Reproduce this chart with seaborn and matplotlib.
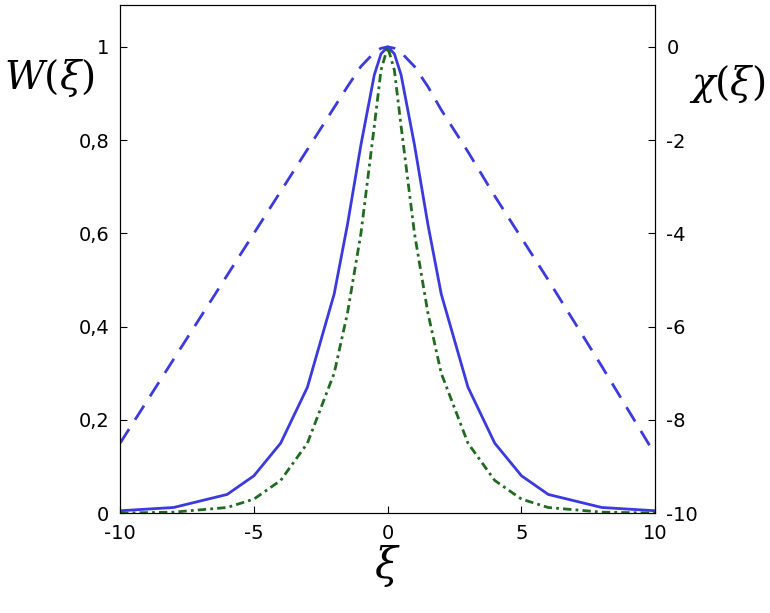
import numpy as np
import pandas as pd
import matplotlib
matplotlib.use('Agg')
import matplotlib.pyplot as plt
import matplotlib.ticker as tick
import seaborn as sbn

# values
xi = [-10, -8, -6, -5, -4, -3, -2, -1.5, -1, -0.5, -0.25, 0, 0.25, 0.5, 1, 1.5, 2, 3, 4, 5, 6, 8, 10]
w_solid = [0.005, 0.012, 0.04, 0.08, 0.15, 0.27, 0.47, 0.62, 0.79, 0.94, 0.985, 1.0, 0.985,
           0.94, 0.79, 0.62, 0.47, 0.27, 0.15, 0.08, 0.04, 0.012, 0.005]
w_green = [0.0, 0.002, 0.012, 0.03, 0.07, 0.15, 0.3, 0.43, 0.6, 0.83, 0.95, 1.0, 0.95,
           0.83, 0.6, 0.43, 0.3, 0.15, 0.07, 0.03, 0.012, 0.002, 0.0]
chi = [-8.5, -6.7, -4.9, -4.0, -3.1, -2.2, -1.3, -0.85, -0.42, -0.12, -0.03, 0.0, -0.03,
       -0.12, -0.42, -0.85, -1.35, -2.25, -3.2, -4.1, -5.0, -6.85, -8.75]

df = pd.DataFrame({'xi': xi, 'w': w_solid, 'g': w_green, 'chi': chi})

plt.rcParams['mathtext.fontset'] = 'dejavuserif'
plt.rcParams['axes.unicode_minus'] = False
fig = plt.figure(figsize=(7.7, 6.13), dpi=100)
ax = fig.add_axes([0.156, 0.163, 0.695, 0.829])
blue = '#3a3adf'
sbn.lineplot(data=df, x='xi', y='w', ax=ax, color=blue, lw=2)
sbn.lineplot(data=df, x='xi', y='g', ax=ax, color='#1f6b1f', lw=2, linestyle=(0, (3, 1.5, 1, 1.5)))
ax.set_xlim(-10, 10)
ax.set_ylim(0, 1.09)
ax.set_yticks([0, 0.2, 0.4, 0.6, 0.8, 1.0])
ax.yaxis.set_major_formatter(tick.FuncFormatter(lambda v, _: f'{v:g}'.replace('.', ',')))
ax.set_xticks([-10, -5, 0, 5, 10])
ax.set_xlabel(r'$\xi$', fontsize=30, labelpad=0)
ax.set_ylabel('')
ax.tick_params(direction='in', labelsize=14, length=5, pad=8)

ax2 = ax.twinx()
sbn.lineplot(data=df, x='xi', y='chi', ax=ax2, color=blue, lw=2, linestyle=(0, (6, 4)))
ax2.set_ylim(-10, 0.9)
ax2.set_yticks([-10, -8, -6, -4, -2, 0])
ax2.set_ylabel('')
ax2.tick_params(direction='in', labelsize=14, length=5, pad=8)

fig.text(0.005, 0.855, r'$W(\xi)$', fontsize=28)
fig.text(0.895, 0.845, r'$\chi(\xi)$', fontsize=28)
fig.savefig('out.png')
